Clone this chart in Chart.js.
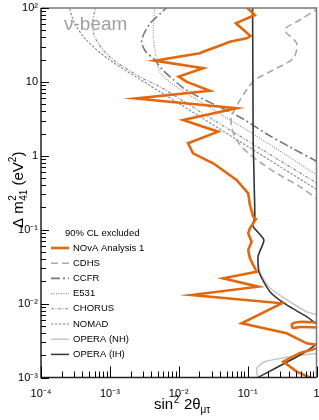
<!DOCTYPE html>
<html><head><meta charset="utf-8">
<script src="https://cdn.jsdelivr.net/npm/chart.js@4/dist/chart.umd.min.js"></script>
<style>html,body{margin:0;padding:0;background:#fff;}</style>
</head><body>
<canvas id="c" width="319" height="420"></canvas>
<script>
// ---- tick labels ----
const xDecades = [1e-4, 1e-3, 1e-2, 1e-1, 1];
const xTickLabels = ['10⁻⁴', '10⁻³', '10⁻²', '10⁻¹', '1'];
const yDecades = [1e-3, 1e-2, 1e-1, 1, 10, 100];
const yTickLabels = ['10⁻³', '10⁻²', '10⁻¹', '1', '10', '10²'];

// ---- series names ----
const seriesNames = ['NOvA Analysis 1', 'CDHS', 'CCFR', 'E531', 'CHORUS', 'NOMAD', 'OPERA (NH)', 'OPERA (IH)'];

// ---- series values (sin^2 2theta, Delta m^2) ----
const novaX = [0.0966, 0.127, 0.0675, 0.110, 0.0966, 0.0552, 0.0418, 0.0226, 0.0202, 0.00448, 0.0226, 0.0100, 0.0129, 0.0282, 0.00237, 0.0690, 0.01155, 0.0373, 0.01364, 0.01614, 0.0316, 0.069, 0.1019, 0.108, 0.1205, 0.132, 0.108, 0.1019, 0.114, 0.1019, 0.108, 0.135, 0.0441, 0.142, 0.0153, 0.312, 0.0817, 0.369, 0.719, 1.05, 1.05, 0.575, 0.329, 0.515, 0.861];
const novaY = [102, 80.4, 62.1, 41.8, 38.9, 35.0, 31.6, 25.6, 24.4, 19.4, 15.3, 11.8, 10.07, 7.60, 5.96, 4.39, 3.05, 2.12, 1.476, 1.081, 0.792, 0.471, 0.311, 0.216, 0.150, 0.1396, 0.1045, 0.0893, 0.0689, 0.0531, 0.0410, 0.0270, 0.0220, 0.01694, 0.01306, 0.01009, 0.00541, 0.00396, 0.00290, 0.00275, 0.00251, 0.00215, 0.00164, 0.0012, 0.00097];
const novaLoopX = [1.05, 0.575, 0.441, 0.455, 0.575, 1.05];
const novaLoopY = [0.00555, 0.00564, 0.0053, 0.00468, 0.00482, 0.00475];

const cdhsX = [1.12, 0.575, 0.348, 0.515, 0.46, 0.2355, 0.127, 0.0966, 0.0729, 0.0584, 0.0584, 0.069, 0.0966, 0.151, 0.2636, 0.575, 1.12];
const cdhsY = [102, 68.8, 50.4, 33.3, 20.9, 14.5, 10.6, 7.77, 5.13, 3.38, 2.48, 1.64, 1.137, 0.824, 0.579, 0.382, 0.245];

const ccfrX = [0.0074, 0.0053, 0.00378, 0.0029, 0.0032, 0.00448, 0.00585, 0.00818, 0.0122, 0.0223, 0.0394, 0.0912, 0.178, 0.412, 1.05];
const ccfrY = [110, 82.9, 60.7, 36.9, 27.0, 19.8, 14.5, 10.9, 8.02, 5.87, 4.57, 3.05, 2.04, 1.315, 0.824];

const e531X = [0.00448, 0.00426, 0.00471, 0.0053, 0.0074, 0.016, 0.0499, 0.108, 0.294, 1.12];
const e531Y = [110, 43.1, 21.1, 13.6, 9.97, 6.25, 3.25, 2.10, 1.16, 0.516];

const chorusX = [6.41e-4, 5.67e-4, 6.0e-4, 9.92e-4, 0.00271, 0.0053, 0.0202, 0.077, 0.294, 1.12];
const chorusY = [110, 68.8, 40.9, 21.9, 11.76, 8.61, 3.98, 1.85, 0.864, 0.403];

const nomadX = [2.51e-4, 3.07e-4, 4.55e-4, 9.92e-4, 0.00339, 0.0053, 0.0202, 0.077, 0.294, 1.12];
const nomadY = [110, 62.7, 36.9, 19.8, 9.57, 7.37, 3.40, 1.56, 0.716, 0.329];

const operaNHX = [0.118, 0.1205, 0.127, 0.119, 0.172, 0.142, 0.151, 0.211, 0.412, 0.719, 1.05];
const operaNHY = [110, 1.64, 0.150, 0.112, 0.0726, 0.0441, 0.0268, 0.01626, 0.0106, 0.00777, 0.00701];
const operaNH2X = [1.05, 0.412, 0.178, 0.135, 0.141];
const operaNH2Y = [0.00213, 0.00191, 0.00164, 0.00133, 0.00098];

const operaIHX = [0.118, 0.1205, 0.127, 0.119, 0.172, 0.142, 0.146, 0.211, 0.369, 0.719, 1.05];
const operaIHY = [110, 1.64, 0.150, 0.112, 0.0726, 0.0441, 0.0268, 0.0145, 0.00958, 0.00665, 0.00513];
const operaIH2X = [1.05, 0.643, 0.135];
const operaIH2Y = [0.00293, 0.00213, 0.00098];

// ---- helpers ----
const pts = (xs, ys) => xs.map((v, i) => ({x: v, y: ys[i]}));
const isDecade = v => Math.abs(Math.log10(v) - Math.round(Math.log10(v))) < 1e-6;
const decadeLabel = (v, decs, labels) => {
  const i = decs.findIndex(d => Math.abs(Math.log10(d) - Math.log10(v)) < 1e-6);
  return i >= 0 ? labels[i] : '';
};
const logTicks = decs => {
  const out = [];
  for (let k = 0; k < decs.length - 1; k++) for (let m = 1; m <= 9; m++) out.push({value: m * decs[k]});
  out.push({value: decs[decs.length - 1]});
  return out;
};

const FONT = "'Liberation Sans', Arial, sans-serif";
Chart.defaults.font.family = FONT;

const mk = (label, xs, ys, color, width, dash, tension, legend) => ({
  label, data: pts(xs, ys), showLine: true, borderColor: color, backgroundColor: color,
  borderWidth: width, borderDash: dash, pointRadius: 0, pointHoverRadius: 0,
  tension, fill: false, clip: 0, inLegend: legend
});

const datasets = [
  mk(seriesNames[0], novaX, novaY, '#e2670f', 2.6, [], 0, true),
  mk('', novaLoopX, novaLoopY, '#e2670f', 2.6, [], 0.3, false),
  mk(seriesNames[7], operaIHX, operaIHY, '#333333', 1.5, [], 0.2, true),
  mk('', operaIH2X, operaIH2Y, '#333333', 1.5, [], 0.2, false),
  mk(seriesNames[1], cdhsX, cdhsY, '#a8a8a8', 1.6, [7, 4], 0.3, true),
  mk(seriesNames[2], ccfrX, ccfrY, '#7a7a7a', 1.6, [9, 3, 2, 3], 0.3, true),
  mk(seriesNames[3], e531X, e531Y, '#8a8a8a', 1.1, [1, 1.5], 0.3, true),
  mk(seriesNames[4], chorusX, chorusY, '#8a8a8a', 1.1, [3, 1.5, 1, 1.5], 0.3, true),
  mk(seriesNames[5], nomadX, nomadY, '#8a8a8a', 1.1, [2.5, 1.5], 0.3, true),
  mk(seriesNames[6], operaNHX, operaNHY, '#c8c8c8', 1.6, [], 0.2, true),
  mk('', operaNH2X, operaNH2Y, '#c8c8c8', 1.6, [], 0.2, false)
];

function drawTicks(chart) {
  const {ctx, chartArea: a} = chart;
  const x = chart.scales.x, y = chart.scales.y;
  ctx.save();
  ctx.setLineDash([]);
  ctx.lineWidth = 1;
  ctx.strokeStyle = '#000';
  const xt = x.ticks && x.ticks.length ? x.ticks : logTicks(xDecades);
  const yt = y.ticks && y.ticks.length ? y.ticks : logTicks(yDecades);
  xt.forEach(t => {
    const p = Math.round(x.getPixelForValue(t.value)) + 0.5;
    const L = isDecade(t.value) ? 11 : 6;
    ctx.beginPath(); ctx.moveTo(p, a.bottom); ctx.lineTo(p, a.bottom - L); ctx.stroke();
  });
  yt.forEach(t => {
    const p = Math.round(y.getPixelForValue(t.value)) + 0.5;
    const L = isDecade(t.value) ? 8 : 5;
    ctx.beginPath(); ctx.moveTo(a.left, p); ctx.lineTo(a.left + L, p); ctx.stroke();
  });
  ctx.restore();
}

const deco = {
  id: 'deco',
  afterDraw(chart) {
    const {ctx, chartArea: a} = chart;
    ctx.save();
    ctx.setLineDash([]);
    // frame
    ctx.lineWidth = 1.5;
    ctx.strokeStyle = '#777';
    ctx.beginPath(); ctx.moveTo(a.left, a.top); ctx.lineTo(a.right, a.top); ctx.lineTo(a.right, a.bottom); ctx.stroke();
    ctx.strokeStyle = '#222';
    ctx.beginPath(); ctx.moveTo(a.left, a.top); ctx.lineTo(a.left, a.bottom); ctx.lineTo(a.right, a.bottom); ctx.stroke();
    ctx.restore();
    drawTicks(chart);
    ctx.save();
    ctx.textBaseline = 'alphabetic';
    ctx.textAlign = 'left';
    // nu-beam
    ctx.fillStyle = '#a0a0a0';
    ctx.font = '19px ' + FONT;
    ctx.fillText('ν-beam', 64, 30);
    // x title
    ctx.fillStyle = '#000';
    let cx = 154;
    const bx = 409;
    ctx.font = '15px ' + FONT; ctx.fillText('sin', cx, bx); cx += ctx.measureText('sin').width;
    ctx.font = '10px ' + FONT; ctx.fillText('2', cx + 0.5, bx - 6); cx += ctx.measureText('2').width + 1;
    ctx.font = '15px ' + FONT; ctx.fillText(' 2θ', cx, bx); cx += ctx.measureText(' 2θ').width;
    ctx.font = '10px ' + FONT; ctx.fillText('μτ', cx, bx + 4);
    // y title
    ctx.translate(23, 228);
    ctx.rotate(-Math.PI / 2);
    let ty = 0;
    ctx.font = '15px ' + FONT; ctx.fillText('Δ m', ty, 0); ty += ctx.measureText('Δ m').width + 0.5;
    ctx.font = '10px ' + FONT; ctx.fillText('2', ty, -7); ctx.fillText('41', ty, 4); ty += ctx.measureText('41').width;
    ctx.font = '15px ' + FONT; ctx.fillText(' (eV', ty, 0); ty += ctx.measureText(' (eV').width;
    ctx.font = '10px ' + FONT; ctx.fillText('2', ty, -7); ty += ctx.measureText('2').width;
    ctx.font = '15px ' + FONT; ctx.fillText(')', ty, 0);
    ctx.setTransform(1, 0, 0, 1, 0, 0);
    // legend
    ctx.font = '9.5px ' + FONT;
    ctx.fillStyle = '#000';
    ctx.textBaseline = 'middle';
    ctx.fillText('90% CL excluded', 65, 233);
    const entries = chart.data.datasets.filter(d => d.inLegend);
    seriesNames.forEach((name, i) => {
      const d = entries.find(e => e.label === name);
      const yy = 248 + i * 15.2;
      ctx.save();
      ctx.strokeStyle = d.borderColor; ctx.lineWidth = d.borderWidth;
      ctx.setLineDash(d.borderDash);
      ctx.beginPath(); ctx.moveTo(51, yy); ctx.lineTo(69, yy); ctx.stroke();
      ctx.restore();
      ctx.fillText(name, 73, yy);
    });
    ctx.restore();
  }
};

new Chart(document.getElementById('c'), {
  type: 'scatter',
  data: {datasets},
  options: {
    responsive: false, animation: false, devicePixelRatio: 1,
    layout: {padding: {left: 0, top: 8, right: 2.5, bottom: 0}},
    plugins: {legend: {display: false}, tooltip: {enabled: false}},
    scales: {
      x: {
        type: 'logarithmic', min: 1e-4, max: 1,
        grid: {display: false, drawTicks: false}, border: {display: false},
        afterBuildTicks: s => { s.ticks = logTicks(xDecades); },
        afterFit: s => { s.height = 42.5; s.paddingLeft = 0; s.paddingRight = 0; },
        ticks: {
          autoSkip: false, maxRotation: 0, minRotation: 0, padding: 10, color: '#000',
          font: {size: 11},
          callback: v => decadeLabel(v, xDecades, xTickLabels)
        }
      },
      y: {
        type: 'logarithmic', min: 1e-3, max: 100,
        grid: {display: false, drawTicks: false}, border: {display: false},
        afterBuildTicks: s => { s.ticks = logTicks(yDecades); },
        afterFit: s => { s.width = 41; s.paddingTop = 0; s.paddingBottom = 0; },
        ticks: {
          autoSkip: false, padding: 3, color: '#000',
          font: {size: 11},
          callback: v => decadeLabel(v, yDecades, yTickLabels)
        }
      }
    }
  },
  plugins: [deco]
});
</script>
</body></html>
